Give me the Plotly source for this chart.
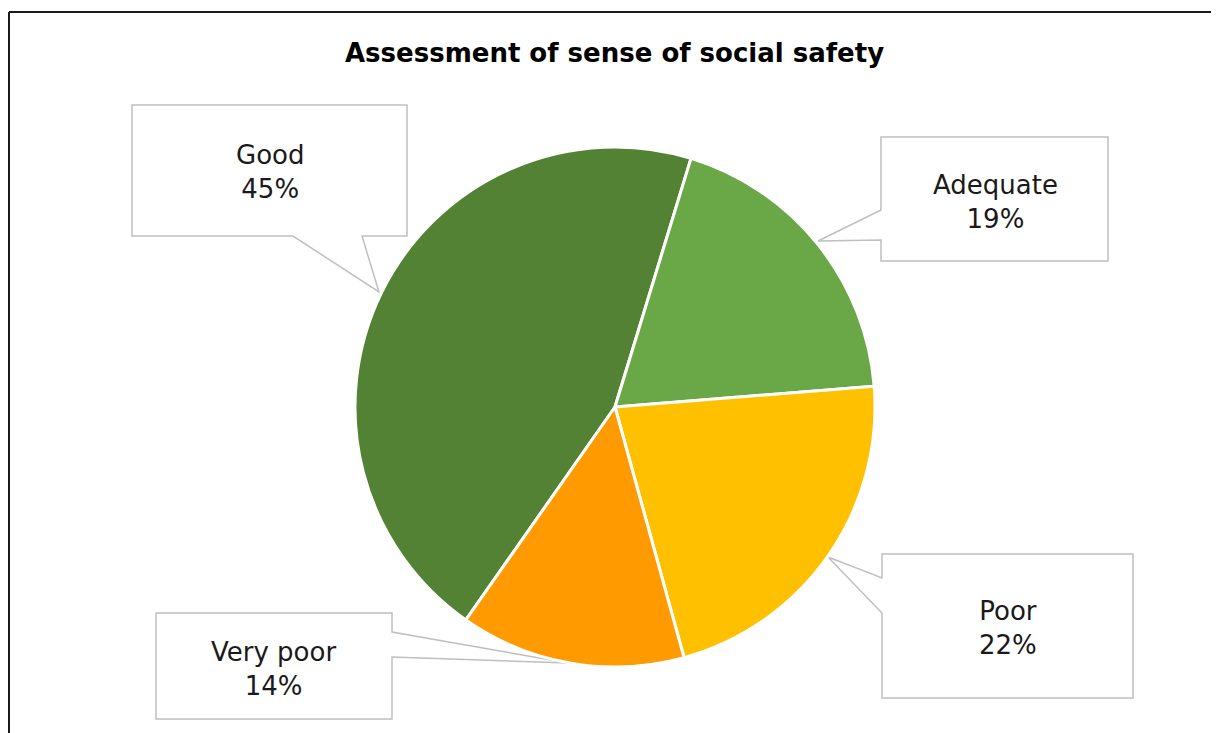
import plotly.graph_objects as go

W, H = 1219, 733
OFF = 8  # page body margin offset

categories = ["Good", "Adequate", "Poor", "Very poor"]
values = [45, 19, 22, 14]
colors = ["#548235", "#6AA746", "#FFC000", "#FF9A00"]
title_text = "Assessment of sense of social safety"

FONT = "DejaVu Sans"

def px(x, y):
    return (x - OFF) / W, 1 - (y - OFF) / H

def path(points):
    pts = [px(x, y) for x, y in points]
    return "M " + " L ".join(f"{a:.5f},{b:.5f}" for a, b in pts) + " Z"

# callout outlines (pixel layout) and text centres per category
callouts = {
    "Good": ([(132, 105), (407, 105), (407, 236), (362, 236), (379, 292), (293, 236), (132, 236)], (270, 172)),
    "Adequate": ([(881, 137), (1108, 137), (1108, 261), (881, 261), (881, 240), (818, 241), (881, 210)], (995, 202)),
    "Poor": ([(882, 554), (1133, 554), (1133, 698), (882, 698), (882, 613), (828, 557), (882, 578)], (1008, 628)),
    "Very poor": ([(156, 613), (392, 613), (392, 632), (568, 663), (392, 657), (392, 719), (156, 719)], (273, 669)),
}

fig = go.Figure()
x0, y0 = px(355, 667)
x1, y1 = px(875, 147)
fig.add_trace(go.Pie(
    labels=categories,
    values=values,
    sort=False,
    direction="clockwise",
    rotation=215,
    marker=dict(colors=colors, line=dict(color="white", width=3)),
    textinfo="none",
    hoverinfo="label+percent",
    showlegend=False,
    domain=dict(x=[x0, x1], y=[y0, y1]),
))

shapes = []
annotations = []
for cat, val in zip(categories, values):
    pts, (tx, ty) = callouts[cat]
    shapes.append(dict(type="path", xref="paper", yref="paper", path=path(pts),
                       line=dict(color="#BFBFBF", width=1.5), fillcolor="white", layer="below"))
    ax, ay = px(tx, ty)
    annotations.append(dict(xref="paper", yref="paper", x=ax, y=ay, showarrow=False,
                            xanchor="center", yanchor="middle",
                            text=f"{cat}<br>{val}%", align="center",
                            font=dict(family=FONT, size=26, color="#1a1a1a")))

# outer chart border (top and left visible)
bx, by = px(9, 12)
shapes.append(dict(type="line", xref="paper", yref="paper", x0=bx, y0=by, x1=1.01, y1=by,
                   line=dict(color="#1a1a1a", width=2)))
shapes.append(dict(type="line", xref="paper", yref="paper", x0=bx, y0=by, x1=bx, y1=-0.02,
                   line=dict(color="#1a1a1a", width=2)))

tx, ty = px(614, 53)
annotations.append(dict(xref="paper", yref="paper", x=tx, y=ty, showarrow=False,
                        xanchor="center", yanchor="middle",
                        text=f"<b>{title_text}</b>",
                        font=dict(family=FONT, size=26, color="black")))

fig.update_layout(
    width=W, height=H,
    margin=dict(l=0, r=0, t=0, b=0),
    paper_bgcolor="white", plot_bgcolor="white",
    shapes=shapes, annotations=annotations,
)

fig.write_html("out.html")
